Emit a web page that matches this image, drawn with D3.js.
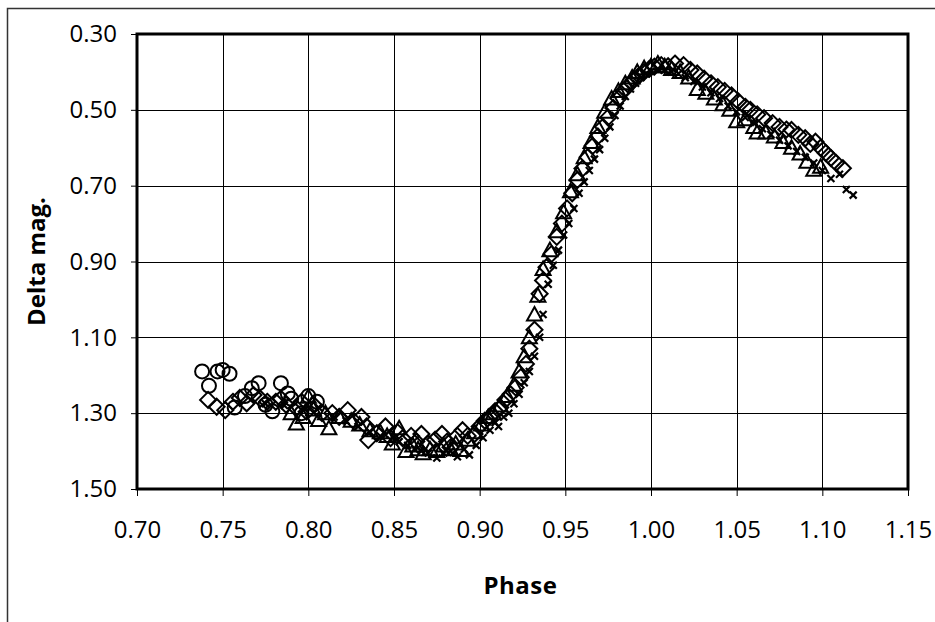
<!DOCTYPE html>
<html>
<head>
<meta charset="utf-8">
<script src="https://cdn.jsdelivr.net/npm/d3@7"></script>
<style>
  body { margin: 0; background: #fff; }
</style>
</head>
<body>
<svg id="chart" width="935" height="622"></svg>
<script>
// light curve data, [phase, delta mag]
const circles = [
  [0.738, 1.190], [0.742, 1.228], [0.747, 1.190], [0.750, 1.186], [0.754, 1.196],
  [0.757, 1.285], [0.763, 1.255], [0.767, 1.234], [0.771, 1.221], [0.775, 1.278],
  [0.779, 1.295], [0.784, 1.221], [0.788, 1.248], [0.790, 1.262], [0.796, 1.300],
  [0.800, 1.255], [0.805, 1.270]
];

const diamonds = [
  [0.7415, 1.265], [0.7465, 1.283], [0.7515, 1.292], [0.756, 1.270], [0.760, 1.260],
  [0.764, 1.274], [0.768, 1.252], [0.772, 1.262], [0.776, 1.270], [0.781, 1.270],
  [0.784, 1.262], [0.787, 1.278], [0.793, 1.287], [0.796, 1.270], [0.799, 1.296],
  [0.803, 1.278], [0.808, 1.300], [0.814, 1.300], [0.818, 1.310], [0.823, 1.292],
  [0.827, 1.323], [0.831, 1.310], [0.834, 1.335], [0.835, 1.371], [0.840, 1.353],
  [0.845, 1.335], [0.848, 1.366], [0.852, 1.350], [0.855, 1.366], [0.860, 1.360],
  [0.863, 1.375], [0.866, 1.355], [0.870, 1.380], [0.874, 1.370], [0.878, 1.355],
  [0.881, 1.375], [0.883, 1.390], [0.887, 1.360], [0.890, 1.345], [0.893, 1.360],
  [0.897, 1.355], [0.900, 1.335], [0.903, 1.320], [0.906, 1.310], [0.909, 1.295],
  [0.912, 1.285], [0.915, 1.265], [0.918, 1.250], [0.921, 1.232], [0.924, 1.205],
  [0.927, 1.170], [0.929, 1.130], [0.932, 1.080], [0.935, 0.985], [0.937, 0.950],
  [0.939, 0.915], [0.942, 0.880], [0.945, 0.835], [0.948, 0.800], [0.951, 0.760],
  [0.954, 0.720], [0.957, 0.685], [0.960, 0.655], [0.963, 0.625], [0.966, 0.595],
  [0.969, 0.570], [0.972, 0.545], [0.975, 0.520], [0.978, 0.495], [0.981, 0.470],
  [0.984, 0.450], [0.987, 0.435], [0.990, 0.420], [0.993, 0.410], [0.996, 0.400],
  [0.999, 0.392], [1.002, 0.386], [1.006, 0.382], [1.010, 0.385], [1.014, 0.378],
  [1.019, 0.382], [1.023, 0.395], [1.027, 0.404], [1.031, 0.418], [1.035, 0.430],
  [1.039, 0.440], [1.043, 0.450], [1.047, 0.462], [1.051, 0.478], [1.055, 0.492],
  [1.058, 0.500], [1.062, 0.512], [1.066, 0.522], [1.071, 0.535], [1.075, 0.545],
  [1.079, 0.552], [1.082, 0.553], [1.086, 0.566], [1.090, 0.575], [1.093, 0.590],
  [1.096, 0.584], [1.099, 0.600], [1.102, 0.614], [1.105, 0.627], [1.108, 0.640],
  [1.112, 0.654]
];

const triangles = [
  [0.790, 1.300], [0.793, 1.327], [0.797, 1.310], [0.800, 1.257], [0.803, 1.290],
  [0.806, 1.318], [0.810, 1.300], [0.812, 1.340], [0.818, 1.310], [0.825, 1.320],
  [0.830, 1.330], [0.836, 1.345], [0.842, 1.350], [0.846, 1.360], [0.849, 1.380],
  [0.853, 1.340], [0.857, 1.400], [0.861, 1.385], [0.864, 1.395], [0.867, 1.406],
  [0.871, 1.395], [0.875, 1.400], [0.879, 1.385], [0.883, 1.395], [0.886, 1.380],
  [0.889, 1.397], [0.893, 1.370], [0.897, 1.350], [0.901, 1.330], [0.905, 1.310],
  [0.908, 1.300], [0.912, 1.280], [0.916, 1.255], [0.920, 1.225], [0.923, 1.190],
  [0.926, 1.150], [0.929, 1.100], [0.932, 1.040], [0.934, 0.990], [0.937, 0.920],
  [0.941, 0.870], [0.945, 0.820], [0.949, 0.770], [0.953, 0.715], [0.957, 0.670],
  [0.961, 0.625], [0.965, 0.585], [0.969, 0.545], [0.973, 0.505], [0.977, 0.470],
  [0.981, 0.450], [0.985, 0.430], [0.989, 0.415], [0.992, 0.400], [0.996, 0.390],
  [1.000, 0.385], [1.004, 0.378], [1.008, 0.385], [1.012, 0.392], [1.017, 0.400],
  [1.022, 0.415], [1.027, 0.445], [1.032, 0.455], [1.037, 0.470], [1.042, 0.485],
  [1.046, 0.500], [1.050, 0.530], [1.055, 0.525], [1.060, 0.545], [1.062, 0.560],
  [1.067, 0.560], [1.072, 0.570], [1.077, 0.585], [1.082, 0.600], [1.087, 0.615],
  [1.091, 0.637], [1.095, 0.658], [1.099, 0.650]
];

const crosses = [
  [0.775, 1.275], [0.786, 1.280], [0.798, 1.290], [0.806, 1.285], [0.815, 1.310],
  [0.822, 1.320], [0.829, 1.335], [0.836, 1.350], [0.842, 1.360], [0.848, 1.370],
  [0.853, 1.375], [0.858, 1.385], [0.862, 1.395], [0.866, 1.400], [0.870, 1.405],
  [0.875, 1.418], [0.879, 1.405], [0.883, 1.400], [0.887, 1.415], [0.891, 1.395],
  [0.894, 1.410], [0.898, 1.385], [0.902, 1.365], [0.906, 1.345], [0.909, 1.325],
  [0.911, 1.335], [0.914, 1.310], [0.917, 1.300], [0.920, 1.275], [0.923, 1.250],
  [0.926, 1.220], [0.929, 1.190], [0.932, 1.150], [0.935, 1.100], [0.937, 1.040],
  [0.940, 0.960], [0.943, 0.910], [0.946, 0.870], [0.949, 0.830], [0.952, 0.800],
  [0.955, 0.760], [0.958, 0.720], [0.961, 0.690], [0.964, 0.660], [0.967, 0.630],
  [0.970, 0.605], [0.973, 0.575], [0.976, 0.545], [0.979, 0.515], [0.982, 0.490],
  [0.985, 0.465], [0.988, 0.445], [0.991, 0.430], [0.994, 0.415], [0.997, 0.405],
  [1.000, 0.398], [1.004, 0.392], [1.008, 0.395], [1.012, 0.400], [1.016, 0.405],
  [1.020, 0.415], [1.025, 0.425], [1.030, 0.440], [1.035, 0.455], [1.040, 0.470],
  [1.045, 0.490], [1.050, 0.505], [1.055, 0.520], [1.060, 0.535], [1.065, 0.550],
  [1.070, 0.565], [1.075, 0.580], [1.080, 0.595], [1.085, 0.610], [1.090, 0.625],
  [1.095, 0.640], [1.100, 0.660], [1.105, 0.681], [1.110, 0.670], [1.114, 0.710],
  [1.118, 0.725]
];

const xTicks = [0.70, 0.75, 0.80, 0.85, 0.90, 0.95, 1.00, 1.05, 1.10, 1.15];
const yTicks = [0.30, 0.50, 0.70, 0.90, 1.10, 1.30, 1.50];

const svg = d3.select('#chart');
const width = +svg.attr('width');
const height = +svg.attr('height');
const fontFamily = '"Open Sans", sans-serif';

// chart area frame (only left and top edges fall inside the picture)
svg.append('path')
    .attr('d', `M7.5,${height}V8.5H${width}`)
    .attr('fill', 'none')
    .attr('stroke', '#333')
    .attr('stroke-width', 1.5);

const margin = { top: 34, left: 137, right: 27, bottom: 133 };
const innerWidth = width - margin.left - margin.right;
const innerHeight = height - margin.top - margin.bottom;
const g = svg.append('g')
    .attr('transform', `translate(${margin.left}, ${margin.top})`);

const xScale = d3.scaleLinear().domain([0.70, 1.15]).range([0, innerWidth]);
const yScale = d3.scaleLinear().domain([0.30, 1.50]).range([0, innerHeight]);

// grid lines
g.append('g')
    .selectAll('line')
    .data(xTicks.slice(1, -1))
    .enter().append('line')
    .attr('x1', d => Math.round(xScale(d)) + 0.5)
    .attr('x2', d => Math.round(xScale(d)) + 0.5)
    .attr('y1', 0)
    .attr('y2', innerHeight)
    .attr('stroke', '#000')
    .attr('stroke-width', 1);
g.append('g')
    .selectAll('line')
    .data(yTicks.slice(1, -1))
    .enter().append('line')
    .attr('x1', 0)
    .attr('x2', innerWidth)
    .attr('y1', d => Math.round(yScale(d)) + 0.5)
    .attr('y2', d => Math.round(yScale(d)) + 0.5)
    .attr('stroke', '#000')
    .attr('stroke-width', 1);

// axes
const xAxis = d3.axisBottom(xScale)
    .tickValues(xTicks)
    .tickFormat(d3.format('.2f'))
    .tickSizeInner(7)
    .tickSizeOuter(0)
    .tickPadding(25);
const yAxis = d3.axisLeft(yScale)
    .tickValues(yTicks)
    .tickFormat(d3.format('.2f'))
    .tickSizeInner(6)
    .tickSizeOuter(0)
    .tickPadding(14);

const xAxisG = g.append('g')
    .attr('transform', `translate(0, ${innerHeight})`)
    .call(xAxis);
const yAxisG = g.append('g')
    .call(yAxis);
[xAxisG, yAxisG].forEach(a => {
    a.attr('font-family', fontFamily)
        .attr('font-size', 24);
    a.select('.domain').remove();
    a.selectAll('.tick line').attr('stroke', '#000').attr('stroke-width', 1);
    a.selectAll('.tick text').attr('fill', '#000');
});

// plot border
g.append('rect')
    .attr('x', 0)
    .attr('y', 0)
    .attr('width', innerWidth)
    .attr('height', innerHeight)
    .attr('fill', 'none')
    .attr('stroke', '#000')
    .attr('stroke-width', 3);

// axis labels
svg.append('text')
    .attr('transform', `translate(45, ${margin.top + innerHeight / 2}) rotate(-90)`)
    .attr('text-anchor', 'middle')
    .attr('font-family', fontFamily)
    .attr('font-size', 24)
    .attr('font-weight', 'bold')
    .attr('fill', '#000')
    .text('Delta mag.');
svg.append('text')
    .attr('x', margin.left + innerWidth / 2 - 2)
    .attr('y', 594)
    .attr('text-anchor', 'middle')
    .attr('font-family', fontFamily)
    .attr('font-size', 24)
    .attr('font-weight', 'bold')
    .attr('letter-spacing', 0.5)
    .attr('fill', '#000')
    .text('Phase');

// markers
const series = [
    { data: diamonds, path: 'M0,-8L8,0L0,8L-8,0Z', width: 2 },
    { data: triangles, path: 'M0,-7.5L7.5,6L-7.5,6Z', width: 2 },
    { data: circles, path: 'M7,0A7,7 0 1,1 -7,0A7,7 0 1,1 7,0Z', width: 2 },
    { data: crosses, path: 'M-3.5,-3.5L3.5,3.5M-3.5,3.5L3.5,-3.5', width: 2.2 }
];
series.forEach((s, i) => {
    g.append('g')
        .attr('class', `series s${i}`)
        .selectAll('path')
        .data(s.data)
        .enter().append('path')
        .attr('transform', d => `translate(${xScale(d[0])}, ${yScale(d[1])})`)
        .attr('d', s.path)
        .attr('fill', 'none')
        .attr('stroke', '#000')
        .attr('stroke-width', s.width);
});
</script>
</body>
</html>
